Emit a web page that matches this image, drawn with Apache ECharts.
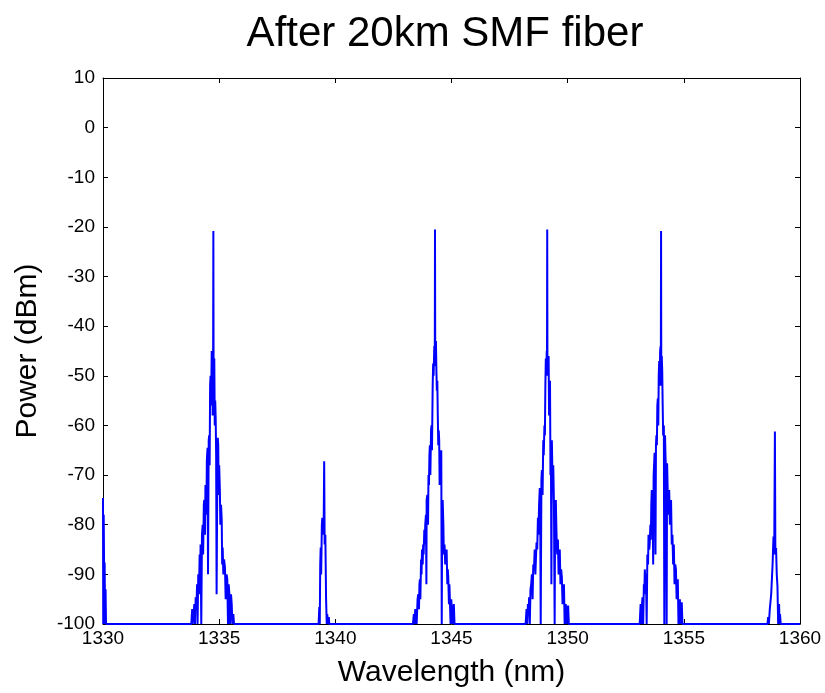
<!DOCTYPE html>
<html>
<head>
<meta charset="utf-8">
<script src="https://cdn.jsdelivr.net/npm/echarts@6/dist/echarts.min.js"></script>
<style>
html, body { margin: 0; padding: 0; background: #fff; }
#draw { width: 825px; height: 693px; }
</style>
</head>
<body>
<div id="draw"></div>
<script>
// x range and ticks
var xMin = 1330, xMax = 1360, xStep = 5;
var yMin = -100, yMax = 10, yStep = 10;

// spectrum, one pair of arrays per cluster
var edgeWl = [1330.00, 1330.01, 1330.03, 1330.05, 1330.07, 1330.09, 1330.11, 1330.13];
var edgeDb = [-74.6, -100, -78, -90, -87.6, -100, -93, -100];

var peak1Wl = [1333.80, 1333.84, 1333.86, 1333.90, 1333.93, 1333.96, 1333.99, 1334.02, 1334.05, 1334.07,
	1334.10, 1334.13, 1334.16, 1334.18, 1334.20, 1334.23, 1334.26, 1334.29, 1334.31, 1334.34,
	1334.36, 1334.39, 1334.41, 1334.43, 1334.45, 1334.47, 1334.50, 1334.52, 1334.55, 1334.57,
	1334.59, 1334.61, 1334.63, 1334.65, 1334.68, 1334.70, 1334.72, 1334.74, 1334.75, 1334.76,
	1334.79, 1334.81, 1334.83, 1334.85, 1334.87, 1334.89, 1334.92, 1334.94, 1334.96, 1334.98,
	1335.00, 1335.03, 1335.05, 1335.08, 1335.11, 1335.13, 1335.15, 1335.18, 1335.21, 1335.25,
	1335.28, 1335.32, 1335.35, 1335.38, 1335.41, 1335.44, 1335.47, 1335.51, 1335.54, 1335.57,
	1335.61, 1335.64];
var peak1Db = [-100, -97, -100, -98, -96, -100, -94.6, -97, -92, -100,
	-90, -94, -86, -92, -84, -100, -82, -80, -86, -76,
	-75, -82, -72, -71.6, -78, -67, -64.5, -90, -63, -62,
	-68, -52, -50, -56, -45, -48, -58, -47, -20.8, -50,
	-46.5, -60, -55, -58.5, -66, -94, -70, -62.5, -64, -74,
	-68, -73, -80, -76, -79, -88, -84.6, -90, -87, -88.6,
	-95, -90, -91, -100, -92, -94, -100, -94, -96, -100,
	-98, -100];

var peak2Wl = [1339.28, 1339.31, 1339.33, 1339.35, 1339.37, 1339.39, 1339.42, 1339.44, 1339.47, 1339.50,
	1339.52, 1339.54, 1339.57, 1339.59, 1339.60, 1339.63, 1339.65, 1339.67, 1339.69, 1339.72, 1339.74];
var peak2Db = [-100, -96.6, -100, -88, -84.6, -90, -80, -78.6, -82, -79,
	-67.2, -84, -82, -90, -94.6, -100, -98, -97.6, -100, -98.6, -100];

var peak3Wl = [1343.34, 1343.38, 1343.41, 1343.44, 1343.47, 1343.50, 1343.54, 1343.57, 1343.60, 1343.62,
	1343.64, 1343.66, 1343.69, 1343.71, 1343.73, 1343.76, 1343.78, 1343.80, 1343.83, 1343.85,
	1343.87, 1343.90, 1343.92, 1343.93, 1343.96, 1343.99, 1344.01, 1344.03, 1344.05, 1344.07,
	1344.09, 1344.12, 1344.14, 1344.16, 1344.19, 1344.21, 1344.23, 1344.26, 1344.28, 1344.29,
	1344.30, 1344.33, 1344.35, 1344.37, 1344.39, 1344.41, 1344.43, 1344.45, 1344.47, 1344.49,
	1344.51, 1344.54, 1344.56, 1344.58, 1344.60, 1344.62, 1344.65, 1344.67, 1344.70, 1344.73,
	1344.76, 1344.79, 1344.82, 1344.84, 1344.86, 1344.89, 1344.91, 1344.93, 1344.96, 1344.99,
	1345.02, 1345.05, 1345.08, 1345.10, 1345.13];
var peak3Db = [-100, -98, -100, -97, -96.6, -100, -95, -94, -97, -92,
	-91, -95, -87, -90, -85, -88, -84, -86, -81, -84,
	-80, -78, -92, -75, -74, -80, -70, -72, -66, -64,
	-70, -61, -60, -65, -52, -47.5, -50, -44, -48, -20.5,
	-46, -43, -49, -53, -51, -58, -64, -61, -63, -72,
	-66, -68, -65, -100, -76, -75, -80, -86, -84, -88,
	-86, -85, -92, -89, -90.6, -96, -92, -92, -100, -95,
	-94.6, -100, -97, -96, -100];

var peak4Wl = [1348.19, 1348.23, 1348.26, 1348.29, 1348.32, 1348.34, 1348.37, 1348.40, 1348.43, 1348.46,
	1348.49, 1348.52, 1348.55, 1348.58, 1348.61, 1348.64, 1348.66, 1348.69, 1348.72, 1348.74,
	1348.77, 1348.80, 1348.82, 1348.84, 1348.87, 1348.89, 1348.92, 1348.95, 1348.97, 1349.00,
	1349.02, 1349.04, 1349.06, 1349.08, 1349.10, 1349.11, 1349.12, 1349.13, 1349.15, 1349.18,
	1349.20, 1349.22, 1349.24, 1349.26, 1349.28, 1349.30, 1349.32, 1349.35, 1349.38, 1349.41,
	1349.44, 1349.46, 1349.49, 1349.52, 1349.55, 1349.58, 1349.61, 1349.63, 1349.66, 1349.69,
	1349.72, 1349.75, 1349.78, 1349.81, 1349.84, 1349.87, 1349.89, 1349.92, 1349.95, 1349.98,
	1350.02, 1350.05];
var peak4Db = [-100, -97, -100, -96, -98, -94.6, -100, -93, -92, -90,
	-95, -88, -89, -85, -90, -86, -83.6, -85, -78.6, -82,
	-76, -72.6, -78, -100, -71, -69, -74, -63, -66, -60,
	-62, -52, -46.5, -50, -45, -48, -20.5, -50, -47, -46,
	-58, -53, -51, -70, -66, -92, -63, -72, -68, -76,
	-100, -78, -75, -82, -86, -83, -90, -87, -85, -92,
	-89, -90.6, -96, -94, -92, -100, -97, -96, -100, -97,
	-96.3, -100];

var peak5Wl = [1353.10, 1353.14, 1353.17, 1353.20, 1353.22, 1353.25, 1353.28, 1353.30, 1353.32, 1353.35,
	1353.37, 1353.40, 1353.43, 1353.46, 1353.48, 1353.51, 1353.53, 1353.56, 1353.58, 1353.60,
	1353.62, 1353.64, 1353.66, 1353.68, 1353.70, 1353.72, 1353.74, 1353.76, 1353.78, 1353.80,
	1353.82, 1353.84, 1353.86, 1353.88, 1353.90, 1353.92, 1353.94, 1353.96, 1353.98, 1354.00,
	1354.01, 1354.02, 1354.03, 1354.05, 1354.07, 1354.09, 1354.11, 1354.14, 1354.16, 1354.19,
	1354.21, 1354.24, 1354.26, 1354.28, 1354.31, 1354.34, 1354.37, 1354.40, 1354.42, 1354.45,
	1354.48, 1354.51, 1354.54, 1354.57, 1354.60, 1354.63, 1354.66, 1354.69, 1354.71, 1354.74,
	1354.77, 1354.80, 1354.83, 1354.86, 1354.88, 1354.91, 1354.94];
var peak5Db = [-100, -96, -100, -96, -94.6, -100, -92, -94, -89, -92,
	-90, -100, -86, -88, -82, -85, -84, -80, -83, -76,
	-73, -78, -75, -88, -70, -68, -65.5, -70, -86, -64,
	-62, -64, -56, -54.6, -60, -50, -47, -52, -45, -44,
	-48, -20.8, -52, -46, -49, -56, -62, -60, -100, -62,
	-66, -70, -100, -67.6, -74, -78, -73, -80, -77, -75,
	-84, -82, -88, -84, -92, -88, -89, -95, -92, -91,
	-100, -96, -95, -100, -97, -95.6, -100];

var peak6Wl = [1358.60, 1358.63, 1358.66, 1358.70, 1358.73, 1358.76, 1358.79, 1358.82, 1358.84, 1358.86,
	1358.89, 1358.92, 1358.94, 1358.97, 1359.00, 1359.03, 1359.06, 1359.08, 1359.10, 1359.12,
	1359.14, 1359.17];
var peak6Db = [-100, -98.6, -100, -97, -96.6, -94, -91, -88, -85, -82.4,
	-86, -61.2, -86, -84.7, -90, -92.4, -100, -97, -96, -100,
	-98, -100];

var xTicks = [1330, 1335, 1340, 1345, 1350, 1355, 1360];

// build one trace, baseline runs between the clusters
var spectrum = [];
[[edgeWl, edgeDb], [peak1Wl, peak1Db], [peak2Wl, peak2Db], [peak3Wl, peak3Db],
 [peak4Wl, peak4Db], [peak5Wl, peak5Db], [peak6Wl, peak6Db]].forEach(function(c) {
	for (var i = 0; i < c[0].length; i++) {
		spectrum.push([c[0][i], c[1][i]]);
	}
});
spectrum.push([xMax, yMin]);

var font = 'Arial, "Liberation Sans", sans-serif';
var myChart = echarts.init(document.getElementById('draw'));

var tick = { show: true, inside: true, length: 5, lineStyle: { color: '#000', width: 1 } };
var line = { show: true, onZero: false, lineStyle: { color: '#000', width: 1 } };

var option = {
	animation: false,
	backgroundColor: '#fff',
	title: {
		text: 'After 20km SMF fiber',
		left: 440,
		textAlign: 'center',
		top: 8,
		textStyle: { fontFamily: font, fontSize: 42, fontWeight: 'normal', color: '#000' }
	},
	grid: { left: 103, right: 25, top: 78, bottom: 66 },
	xAxis: [{
		type: 'value',
		min: xMin, max: xMax, interval: xStep,
		position: 'bottom',
		name: 'Wavelength (nm)',
		nameLocation: 'middle',
		nameGap: 34,
		nameTextStyle: { fontFamily: font, fontSize: 30, color: '#000' },
		axisLine: line,
		axisTick: tick,
		splitLine: { show: false },
		axisLabel: { fontFamily: font, fontSize: 19, color: '#000', margin: 5,
			formatter: function(v) { return xTicks.indexOf(v) >= 0 ? String(v) : ''; } }
	}, {
		type: 'value',
		min: xMin, max: xMax, interval: xStep,
		position: 'top',
		axisLine: line,
		axisTick: tick,
		splitLine: { show: false },
		axisLabel: { show: false }
	}],
	yAxis: [{
		type: 'value',
		min: yMin, max: yMax, interval: yStep,
		position: 'left',
		name: 'Power (dBm)',
		nameLocation: 'middle',
		nameGap: 60,
		nameTextStyle: { fontFamily: font, fontSize: 30, color: '#000' },
		axisLine: line,
		axisTick: tick,
		splitLine: { show: false },
		axisLabel: { fontFamily: font, fontSize: 19, color: '#000', margin: 8 }
	}, {
		type: 'value',
		min: yMin, max: yMax, interval: yStep,
		position: 'right',
		axisLine: line,
		axisTick: tick,
		splitLine: { show: false },
		axisLabel: { show: false }
	}],
	series: [{
		name: 'spectrum',
		type: 'line',
		xAxisIndex: 0,
		yAxisIndex: 0,
		data: spectrum,
		showSymbol: false,
		symbol: 'none',
		clip: true,
		lineStyle: { color: '#0000ff', width: 2 },
		z: 5
	}]
};
myChart.setOption(option);
</script>
</body>
</html>
